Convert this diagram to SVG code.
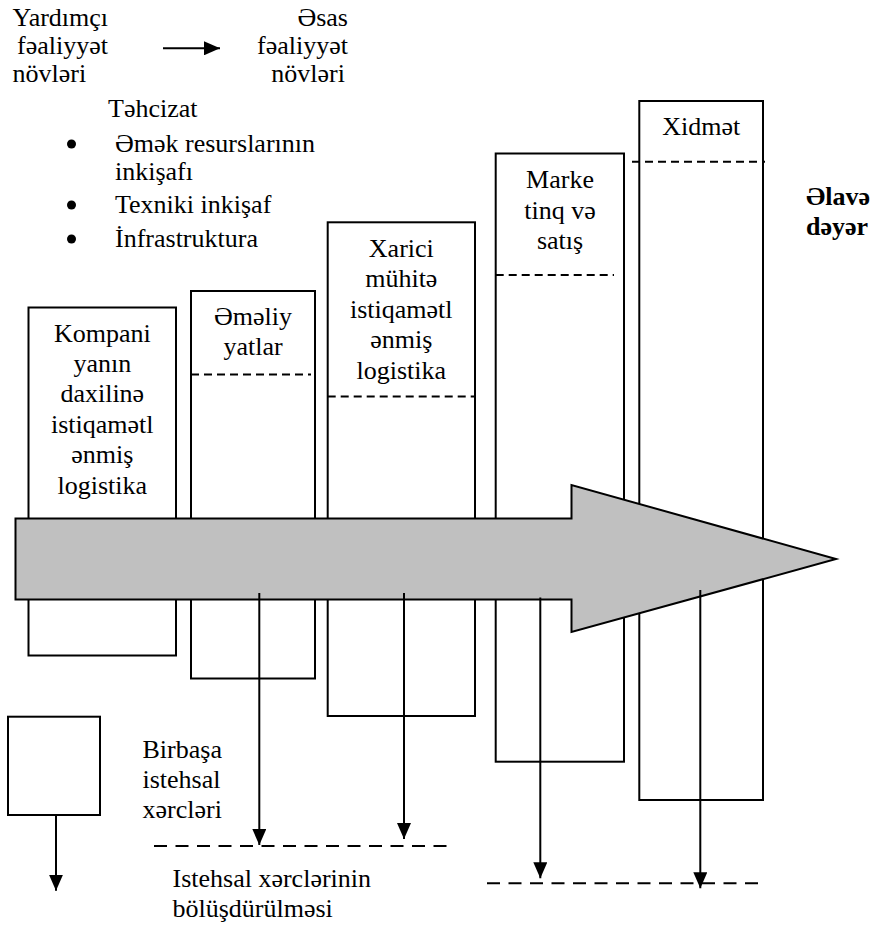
<svg xmlns="http://www.w3.org/2000/svg" width="872" height="926" viewBox="0 0 872 926">
  <style>
    text { font-size: 26px; fill: #000; }
    .c { text-anchor: middle; }
    .r { text-anchor: end; }
    .b { font-weight: bold; }
    .box { fill: #fff; stroke: #000; stroke-width: 2; }
    .sep { stroke: #000; stroke-width: 2; stroke-dasharray: 8 5; fill: none; }
    .level { stroke: #000; stroke-width: 2; stroke-dasharray: 13 8.5; fill: none; }
    .flow { stroke: #000; stroke-width: 2; fill: none; marker-end: url(#head); }
  </style>
  <defs>
    <marker id="head" viewBox="0 0 16 14" refX="16" refY="7" markerWidth="16" markerHeight="14" markerUnits="userSpaceOnUse" orient="auto">
      <path d="M0,0 L16,7 L0,14 Z" fill="#000"/>
    </marker>
  </defs>
  <rect width="872" height="926" fill="#fff"/>

  <g font-family="Liberation Serif, DejaVu Serif, serif">
  <!-- legend: supporting vs primary activities -->
  <g id="legend">
    <text x="12.5" y="26">Yardımçı</text>
    <text x="17" y="54">fəaliyyət</text>
    <text x="12.5" y="82">növləri</text>
    <text class="r" x="348" y="26">Əsas</text>
    <text class="r" x="348" y="54">fəaliyyət</text>
    <text class="r" x="345" y="82">növləri</text>
  </g>

  <!-- supply list -->
  <g id="supply">
    <text x="108" y="117">Təhcizat</text>
    <circle cx="71.5" cy="144" r="4.5"/>
    <text x="115" y="152">Əmək resurslarının</text>
    <text x="115" y="180">inkişafı</text>
    <circle cx="71.5" cy="205" r="4.5"/>
    <text x="115" y="213">Texniki inkişaf</text>
    <circle cx="71.5" cy="239" r="4.5"/>
    <text x="115" y="247">İnfrastruktura</text>
  </g>

  <!-- activity columns -->
  <g id="inbound">
    <rect class="box" x="28.5" y="307.5" width="147.5" height="348"/>
    <text class="c" x="102.3" y="342">Kompani</text>
    <text class="c" x="102.3" y="372">yanın</text>
    <text class="c" x="102.3" y="402">daxilinə</text>
    <text class="c" x="102.3" y="433">istiqamətl</text>
    <text class="c" x="102.3" y="463">ənmiş</text>
    <text class="c" x="102.3" y="494">logistika</text>
  </g>

  <g id="operations">
    <rect class="box" x="191" y="291" width="124" height="387.5"/>
    <line class="sep" x1="191" y1="374.5" x2="311" y2="374.5"/>
    <text class="c" x="253" y="325">Əməliy</text>
    <text class="c" x="253" y="355">yatlar</text>
  </g>

  <g id="outbound">
    <rect class="box" x="327.7" y="222.3" width="147.3" height="493.7"/>
    <line class="sep" x1="327.7" y1="396.5" x2="475" y2="396.5"/>
    <text class="c" x="401.3" y="257">Xarici</text>
    <text class="c" x="401.3" y="287">mühitə</text>
    <text class="c" x="401.3" y="318">istiqamətl</text>
    <text class="c" x="401.3" y="348">ənmiş</text>
    <text class="c" x="401.3" y="379">logistika</text>
  </g>

  <g id="marketing">
    <rect class="box" x="495.7" y="153.5" width="128.3" height="608.2"/>
    <line class="sep" x1="495.7" y1="275" x2="614" y2="275"/>
    <text class="c" x="560" y="188">Marke</text>
    <text class="c" x="560" y="219">tinq və</text>
    <text class="c" x="560" y="249">satış</text>
  </g>

  <g id="service">
    <rect class="box" x="639.3" y="101" width="123.7" height="699"/>
    <line class="sep" x1="632" y1="161.7" x2="765" y2="161.7"/>
    <text class="c" x="701.3" y="135">Xidmət</text>
  </g>

  <g id="margin">
    <text class="b" x="806" y="205">Əlavə</text>
    <text class="b" x="806" y="235">dəyər</text>
  </g>

  <!-- value chain arrow -->
  <g id="value-arrow">
    <path d="M15.5,518.5 H571.5 V485 L836,559 L571.5,632 V599.5 H15.5 Z" fill="#c0c0c0" stroke="#000" stroke-width="2" stroke-linejoin="miter"/>
  </g>

  <!-- cost legend box -->
  <g id="cost-box">
    <rect class="box" x="8" y="716.7" width="92" height="98.3"/>
  </g>

  <g id="labels">
    <text x="142.5" y="758">Birbaşa</text>
    <text x="142.5" y="788">istehsal</text>
    <text x="142.5" y="818">xərcləri</text>
    <text x="172.5" y="887">Istehsal xərclərinin</text>
    <text x="172.5" y="917">bölüşdürülməsi</text>
  </g>
  </g>

  <!-- cost levels -->
  <g id="levels">
    <line class="level" x1="154" y1="846" x2="455" y2="846"/>
    <line class="level" x1="487" y1="883.3" x2="766" y2="883.3"/>
  </g>

  <!-- connectors -->
  <g id="connectors">
    <line class="flow" x1="163" y1="48.3" x2="220" y2="48.3"/>
    <line class="flow" x1="259.3" y1="593" x2="259.3" y2="845"/>
    <line class="flow" x1="404" y1="593" x2="404" y2="839"/>
    <line class="flow" x1="540.3" y1="597.5" x2="540.3" y2="878.3"/>
    <line class="flow" x1="700.3" y1="590" x2="700.3" y2="888.3"/>
    <line class="flow" x1="56" y1="815" x2="56" y2="890.7"/>
  </g>
</svg>
